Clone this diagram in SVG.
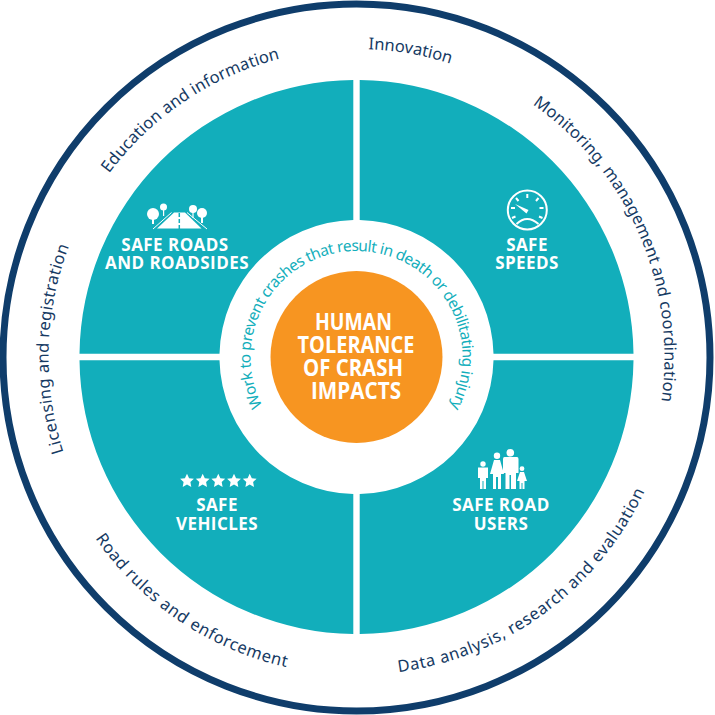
<svg xmlns="http://www.w3.org/2000/svg" width="715" height="715" viewBox="0 0 715 715">
<style>
.q{fill:#12aebb}
.lab{font-family:"Open Sans","Noto Sans",sans-serif;font-weight:700;font-size:17px;letter-spacing:.45px;fill:#fff;text-anchor:middle}
.ctr{font-family:"Open Sans","Noto Sans",sans-serif;font-weight:700;font-size:22.5px;fill:#fff;text-anchor:middle}
.ring{font-family:"Noto Sans","Open Sans",sans-serif;font-size:16.5px;fill:#163a63;text-anchor:middle}
.inner{font-family:"Noto Sans","Open Sans",sans-serif;font-size:15.5px;letter-spacing:-.55px;fill:#12aebb;text-anchor:middle}
.ic{fill:#fff}
.il{fill:none;stroke:#fff;stroke-width:2}
</style>
<defs>
<path id="top" d="M356.500 665A308 308 0 1 1 356.500 49A308 308 0 1 1 356.500 665"/>
<path id="bot" d="M38.500 357A318 318 0 1 0 674.500 357A318 318 0 1 0 38.500 357"/>
<path id="mid" d="M356.500 463A106 106 0 1 1 356.500 251A106 106 0 1 1 356.500 463"/>
<polygon id="star" points="0,-7.3 2.1,-2.8 6.9,-2.2 3.4,1.1 4.3,5.9 0,3.6 -4.3,5.9 -3.4,1.1 -6.9,-2.2 -2.1,-2.8"/>
</defs>
<rect width="715" height="715" fill="#fff"/>
<circle id="outer-ring" cx="356.500" cy="357.500" r="353.500" fill="none" stroke="#0f3d6b" stroke-width="7"/>

<g id="safe-roads">
<path class="q" d="M353.300 80A277 277 0 0 0 79.500 353.800H219.500A137 137 0 0 1 353.300 220Z"/>
<path class="ic" d="M174 212.500H185L201.500 228.500H157Z"/>
<path d="M179.300 213V229" stroke="#12aebb" stroke-width="1.500" stroke-dasharray="4 2" fill="none"/>
<path d="M171.500 212.500L153 229M187 212.500L207 229" stroke="#fff" stroke-width="1" fill="none"/>
<circle class="ic" cx="153" cy="214" r="6"/><rect class="ic" x="152" y="215" width="2" height="9"/>
<circle class="ic" cx="163.500" cy="207" r="3.500"/><rect class="ic" x="163" y="208" width="1.200" height="8"/>
<circle class="ic" cx="193" cy="209" r="4"/><rect class="ic" x="192.400" y="210" width="1.200" height="8"/>
<circle class="ic" cx="202" cy="213" r="5"/><rect class="ic" x="201" y="214" width="2" height="9"/>
<text class="lab" x="175" y="251">SAFE ROADS</text>
<text class="lab" x="177" y="269">AND ROADSIDES</text>
</g>

<g id="safe-speeds">
<path class="q" d="M359.700 80A277 277 0 0 1 633.500 353.800H493.500A137 137 0 0 0 359.700 220Z"/>
<circle class="il" cx="527.300" cy="210" r="19.500"/>
<path class="il" d="M527.300 194V198M516 198L518.500 201M511 208H515M543.500 208H539.500M538.500 198L536 201M512 218L515.500 216.500M542.500 218L539 216.500" stroke-width="1.500"/>
<path class="ic" d="M515 204L528.500 210L526.500 213.500Z"/>
<path class="il" d="M516.500 224Q527 214 538.500 224" stroke-width="1.500"/>
<text class="lab" x="527" y="251">SAFE</text>
<text class="lab" x="527" y="269">SPEEDS</text>
</g>

<g id="safe-vehicles">
<path class="q" d="M353.300 634A277 277 0 0 1 79.500 360.200H219.500A137 137 0 0 0 353.300 494Z"/>
<use href="#star" class="ic" x="187" y="481"/>
<use href="#star" class="ic" x="202.700" y="481"/>
<use href="#star" class="ic" x="218.300" y="481"/>
<use href="#star" class="ic" x="234" y="481"/>
<use href="#star" class="ic" x="249.700" y="481"/>
<text class="lab" x="217" y="511">SAFE</text>
<text class="lab" x="217" y="530">VEHICLES</text>
</g>

<g id="safe-road-users">
<path class="q" d="M359.700 634A277 277 0 0 0 633.500 360.200H493.500A137 137 0 0 1 359.700 494Z"/>
<circle class="ic" cx="510.300" cy="452.700" r="3.800"/>
<path class="ic" d="M504.500 457H517Q518.500 457 518.500 459V473H516V489H511V475H509.500V489H505.500V473H503V459Q503 457 504.500 457Z"/>
<circle class="ic" cx="497" cy="455.700" r="3.200"/>
<path class="ic" d="M494 460H500L504 474H501V489H498V477H496V489H493V474H490Z"/>
<circle class="ic" cx="483" cy="464" r="2.700"/>
<path class="ic" d="M478 467.500H488V478H486V489H483.500V481H482.500V489H480V478H478Z"/>
<circle class="ic" cx="522" cy="468.700" r="2.400"/>
<path class="ic" d="M520 472H524L527 481H524.500V489H522.500V483H521.500V489H519.500V481H517Z"/>
<text class="lab" x="501" y="511">SAFE ROAD</text>
<text class="lab" x="501" y="530">USERS</text>
</g>

<g id="centre">
<circle cx="356.500" cy="357" r="86" fill="#f79521"/>
<text class="ctr" x="353.500" y="330" textLength="77" lengthAdjust="spacingAndGlyphs">HUMAN</text>
<text class="ctr" x="356" y="353" textLength="117" lengthAdjust="spacingAndGlyphs">TOLERANCE</text>
<text class="ctr" x="353" y="376" textLength="100" lengthAdjust="spacingAndGlyphs">OF CRASH</text>
<text class="ctr" x="356" y="399" textLength="90" lengthAdjust="spacingAndGlyphs">IMPACTS</text>
</g>

<g id="inner-caption">
<text class="inner"><textPath href="#mid" startOffset="333">Work to prevent crashes that result in death or debilitating injury</textPath></text>
</g>

<g id="ring-labels">
<text class="ring" letter-spacing=".1"><textPath href="#top" startOffset="785">Education and information</textPath></text>
<text class="ring"><textPath href="#top" startOffset="1021">Innovation</textPath></text>
<text class="ring" letter-spacing=".1"><textPath href="#top" startOffset="1325">Monitoring, management and coordination</textPath></text>
<text class="ring" letter-spacing=".35"><textPath href="#top" startOffset="492">Licensing and registration</textPath></text>
<text class="ring" letter-spacing=".6"><textPath href="#bot" startOffset="311">Road rules and enforcement</textPath></text>
<text class="ring" letter-spacing=".58"><textPath href="#bot" startOffset="701">Data analysis, research and evaluation</textPath></text>
</g>
</svg>
